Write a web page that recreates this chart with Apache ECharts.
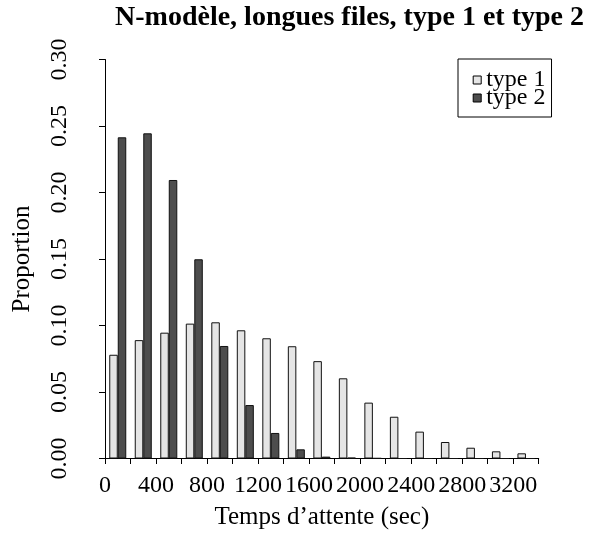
<!DOCTYPE html>
<html>
<head>
<meta charset="utf-8">
<script src="https://cdn.jsdelivr.net/npm/echarts@6/dist/echarts.min.js"></script>
<style>
  html, body { margin: 0; padding: 0; background: #fff; }
  #chart { width: 590px; height: 540px; }
</style>
</head>
<body>
<div id="chart"></div>
<script>
// Bins of 200 sec (0-200, 200-400, ..., 3200-3400)
const categories = ['0-200','200-400','400-600','600-800','800-1000','1000-1200','1200-1400','1400-1600','1600-1800','1800-2000','2000-2200','2200-2400','2400-2600','2600-2800','2800-3000','3000-3200','3200-3400'];
const type1 = [0.078, 0.089, 0.0946, 0.1014, 0.1024, 0.0964, 0.0904, 0.0844, 0.0732, 0.0603, 0.042, 0.0314, 0.0202, 0.0124, 0.0081, 0.0054, 0.0039];
const type2 = [0.2415, 0.2445, 0.2094, 0.1498, 0.0846, 0.0402, 0.0192, 0.0069, 0.0014, 0.0006, 0.0002, 0, 0, 0, 0, 0, 0];
const xTickLabels = [0, 400, 800, 1200, 1600, 2000, 2400, 2800, 3200];
const seriesNames = ['type 1', 'type 2'];
const titleText = 'N-modèle, longues files, type 1 et type 2';
const xName = 'Temps d\u2019attente (sec)';
const yName = 'Proportion';

const FONT = '"Liberation Serif", "Times New Roman", serif';

const chart = echarts.init(document.getElementById('chart'), null, { renderer: 'canvas' });
const option = {
  backgroundColor: '#ffffff',
  animation: false,
  title: {
    text: titleText,
    left: 344.5,
    textAlign: 'center',
    top: -1,
    textStyle: { fontFamily: FONT, fontWeight: 'bold', fontSize: 28, color: '#000' }
  },
  legend: {
    data: seriesNames,
    orient: 'vertical',
    left: 458,
    top: 59,
    padding: [9, 6, 7, 14.7],
    itemGap: -6,
    itemWidth: 8,
    itemHeight: 8,
    itemTextGap: 5,
    icon: 'rect',
    borderColor: '#000',
    borderWidth: 1,
    borderRadius: 0,
    itemStyle: { borderColor: '#000', borderWidth: 1 },
    textStyle: { fontFamily: FONT, fontSize: 24, color: '#000' }
  },
  grid: { left: 105, right: 51.3, top: 59.5, bottom: 81.5, containLabel: false },
  xAxis: [
    {
      type: 'category',
      data: categories,
      boundaryGap: true,
      axisLine: { show: false },
      axisTick: { show: false },
      axisLabel: { show: false },
      splitLine: { show: false }
    },
    {
      type: 'value',
      position: 'bottom',
      min: 0,
      max: 3400,
      interval: 200,
      axisLine: { show: true, onZero: false, lineStyle: { color: '#000', width: 1 } },
      axisTick: { show: true, length: 5.5, lineStyle: { color: '#000', width: 1 } },
      axisLabel: {
        show: true,
        margin: 15,
        fontFamily: FONT,
        fontSize: 24,
        color: '#000',
        showMaxLabel: true,
        formatter: function (v) { return xTickLabels.indexOf(v) >= 0 ? String(v) : ''; }
      },
      splitLine: { show: false },
      name: xName,
      nameLocation: 'middle',
      nameGap: 46,
      nameTextStyle: { fontFamily: FONT, fontSize: 25, color: '#000' }
    }
  ],
  yAxis: {
    type: 'value',
    min: 0,
    max: 0.3,
    interval: 0.05,
    offset: 14,
    axisLine: { show: true, lineStyle: { color: '#000', width: 1 } },
    axisTick: { show: true, length: 6, lineStyle: { color: '#000', width: 1 } },
    axisLabel: {
      rotate: 90,
      margin: 19,
      fontFamily: FONT,
      fontSize: 24,
      color: '#000',
      formatter: function (v) { return v.toFixed(2); }
    },
    splitLine: { show: false },
    name: yName,
    nameLocation: 'middle',
    nameGap: 56.5,
    nameTextStyle: { fontFamily: FONT, fontSize: 25, color: '#000' }
  },
  series: [
    {
      name: seriesNames[0],
      type: 'bar',
      xAxisIndex: 0,
      data: type1,
      barGap: '0%',
      barCategoryGap: '33.333%',
      itemStyle: { color: '#e5e5e5', borderColor: '#111', borderWidth: 1 }
    },
    {
      name: seriesNames[1],
      type: 'bar',
      xAxisIndex: 0,
      data: type2,
      barGap: '0%',
      barCategoryGap: '33.333%',
      itemStyle: { color: '#4d4d4d', borderColor: '#111', borderWidth: 1 }
    }
  ]
};
chart.setOption(option);
</script>
</body>
</html>
